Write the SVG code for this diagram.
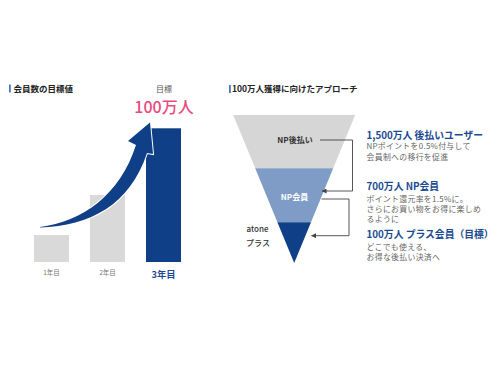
<svg xmlns="http://www.w3.org/2000/svg" width="500" height="375" viewBox="0 0 500 375">
<defs>
<style>
text{font-family:"Noto Sans CJK JP","Noto Sans",sans-serif;}
.title{font-size:8.5px;font-weight:bold;fill:#222;}
.tbar{fill:#4a78b8;}
.yr{font-size:6.5px;fill:#777;text-anchor:middle;}
.head{font-size:9.8px;font-weight:bold;fill:#1b4a92;}
.body{font-size:7.9px;fill:#666;letter-spacing:0.3px;}
.fl{font-size:8px;font-weight:bold;fill:#333;text-anchor:middle;}
.conn{fill:none;stroke:#444;stroke-width:0.9;}
</style>
<marker id="ah" viewBox="0 0 6 6" refX="5.5" refY="3" markerWidth="5" markerHeight="5" orient="auto" markerUnits="userSpaceOnUse">
<path d="M0,0 L6,3 L0,6 Z" fill="#444"/>
</marker>
</defs>
<rect width="500" height="375" fill="#fff"/>

<g id="left-title">
<rect class="tbar" x="9" y="84.5" width="1.8" height="8"/>
<text class="title" x="13.5" y="91.5">会員数の目標値</text>
</g>

<g id="bar1">
<rect x="34" y="235" width="35" height="27" fill="#d9d9d9"/>
<text class="yr" x="51.5" y="275.3">1年目</text>
</g>
<g id="bar2">
<rect x="90" y="195" width="35" height="67" fill="#d9d9d9"/>
<text class="yr" x="107.5" y="275.3">2年目</text>
</g>
<g id="bar3">
<rect x="146" y="128.3" width="35" height="133.7" fill="#0e3f87"/>
<text x="163.5" y="278" text-anchor="middle" style="font-size:9.3px;font-weight:bold;fill:#1b4a92;">3年目</text>
<text x="164" y="92.3" text-anchor="middle" style="font-size:8px;fill:#555;">目標</text>
<text x="164" y="113" text-anchor="middle" style="font-size:16px;font-weight:500;fill:#e94a80;">100万人</text>
</g>

<g id="growth-arrow">
<path d="M40,227 C82,222 120,195 136,145 L128,141 L150,122.5 L153,154 L147,153 C130,205 90,226 40,227.5 Z" fill="#0e3f87" stroke="#fff" stroke-width="2" stroke-linejoin="miter" paint-order="stroke"/>
</g>

<g id="right-title">
<rect class="tbar" x="229" y="85" width="1.8" height="8"/>
<text class="title" x="232" y="92">100万人獲得に向けたアプローチ</text>
</g>

<g id="funnel-np-atobarai">
<polygon points="233.2,115 355.2,115 333.2,168.3 255.2,168.3" fill="#d6d6d6"/>
<text class="fl" x="295" y="143">NP後払い</text>
</g>
<g id="funnel-np-kaiin">
<polygon points="255.2,168.3 333.2,168.3 311,222.3 277.4,222.3" fill="#7f9cc6"/>
<text class="fl" x="294.5" y="200" style="fill:#fff;">NP会員</text>
</g>
<g id="funnel-atone">
<polygon points="277.4,222.3 311,222.3 294.2,263" fill="#0e3f87"/>
<text class="fl" x="257.5" y="232.3" style="font-weight:500;">atone</text>
<text class="fl" x="258" y="246" style="font-weight:500;">プラス</text>
</g>

<g id="connectors">
<path class="conn" d="M320,140 H352.5 V191 H322" marker-end="url(#ah)"/>
<path class="conn" d="M321.5,199 H349 V235.7 H311.5" marker-end="url(#ah)"/>
</g>

<g id="desc1">
<text class="head" x="366.5" y="138.5">1,500万人 後払いユーザー</text>
<text class="body" x="366.5" y="149.3">NPポイントを0.5%付与して</text>
<text class="body" x="366.5" y="160">会員制への移行を促進</text>
</g>
<g id="desc2">
<text class="head" x="366.5" y="189.5">700万人 NP会員</text>
<text class="body" x="366.5" y="201.5">ポイント還元率を1.5%に。</text>
<text class="body" x="366.5" y="211.8">さらにお買い物をお得に楽しめ</text>
<text class="body" x="366.5" y="222">るように</text>
</g>
<g id="desc3">
<text class="head" x="366.5" y="238">100万人 プラス会員（目標）</text>
<text class="body" x="366.5" y="250">どこでも使える、</text>
<text class="body" x="366.5" y="260">お得な後払い決済へ</text>
</g>
</svg>
